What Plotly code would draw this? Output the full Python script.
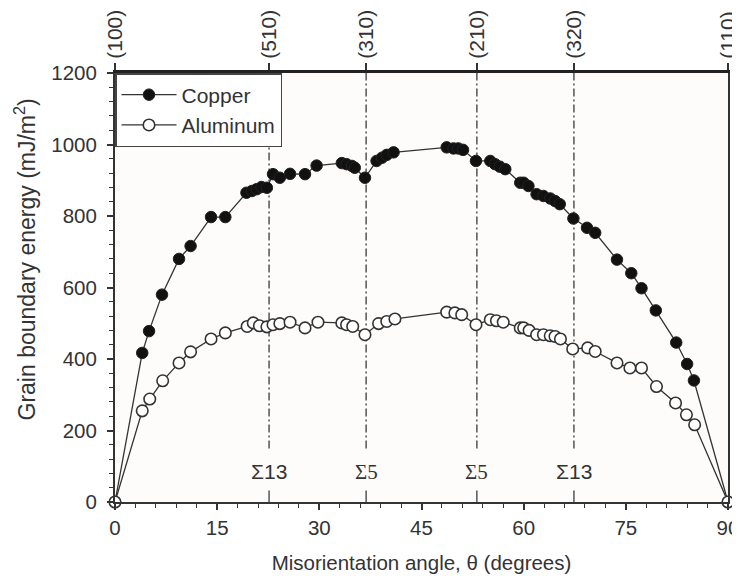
import plotly.graph_objects as go

# ---- data ----
copper_angle = [0, 4.0, 5.0, 6.9, 9.4, 11.1, 14.1, 16.2, 19.3, 20.1, 20.8, 21.5, 22.3,
                23.2, 24.2, 25.7, 27.9, 29.6, 33.3, 34.0, 34.8, 35.2, 36.7, 38.4, 39.2,
                39.9, 40.9, 48.7, 49.7, 50.4, 51.1, 53.0, 55.1, 55.8, 56.5, 57.3, 59.5,
                60.0, 60.7, 61.9, 62.9, 63.9, 64.6, 65.3, 67.3, 69.3, 70.5, 73.7, 75.8,
                77.3, 79.4, 82.4, 84.0, 85.0, 90]
copper_energy = [0, 417, 478, 580, 680, 716, 797, 797, 865, 870, 875, 881, 879,
                 917, 907, 918, 917, 941, 948, 945, 940, 935, 907, 954, 963,
                 971, 978, 992, 989, 989, 985, 954, 954, 945, 938, 931, 893,
                 893, 884, 861, 856, 849, 842, 833, 793, 767, 753, 678, 640,
                 598, 536, 446, 386, 340, 0]

aluminum_angle = [0, 4.0, 5.1, 7.0, 9.4, 11.1, 14.1, 16.2, 19.4, 20.3, 21.2, 22.3, 23.2,
                  24.2, 25.7, 27.9, 29.8, 33.3, 34.0, 34.9, 36.7, 38.7, 39.9, 41.1,
                  48.7, 49.9, 50.9, 53.0, 55.1, 56.0, 57.0, 59.5, 60.0, 60.8, 61.9,
                  62.9, 63.9, 64.6, 65.4, 67.2, 69.4, 70.5, 73.7, 75.6, 77.3, 79.5,
                  82.3, 83.9, 85.1, 90]
aluminum_energy = [0, 255, 288, 339, 389, 420, 456, 473, 491, 501, 493, 490, 496,
                   499, 503, 487, 503, 501, 496, 491, 468, 499, 505, 512,
                   531, 529, 524, 496, 510, 507, 503, 487, 487, 480, 468,
                   468, 465, 463, 456, 428, 431, 421, 389, 375, 375, 323,
                   277, 244, 216, 0]

plane_angles = [0, 22.62, 36.87, 53.13, 67.38, 90]
plane_labels = ["(100)", "(510)", "(310)", "(210)", "(320)", "(110)"]
sigma_angles = [22.62, 36.87, 53.13, 67.38]
sigma_labels = ["Σ13", "Σ5", "Σ5", "Σ13"]
sigma_fonts = ["Liberation Sans", "Liberation Serif", "Liberation Serif", "Liberation Sans"]

x_ticks = [0, 15, 30, 45, 60, 75, 90]
y_ticks = [0, 200, 400, 600, 800, 1000, 1200]

FONT = "Liberation Sans"
INK = "#333333"

fig = go.Figure()

fig.add_trace(go.Scatter(
    x=copper_angle, y=copper_energy, name="Copper", mode="lines+markers",
    line=dict(color=INK, width=1.3),
    marker=dict(symbol="circle", size=11.5, color="#111111",
                line=dict(color="#222222", width=1)),
    cliponaxis=False,
))
fig.add_trace(go.Scatter(
    x=aluminum_angle, y=aluminum_energy, name="Aluminum", mode="lines+markers",
    line=dict(color=INK, width=1.3),
    marker=dict(symbol="circle", size=11.5, color="white",
                line=dict(color="#333333", width=1.6)),
    cliponaxis=False,
))
# invisible trace for the top axis
fig.add_trace(go.Scatter(x=[0, 90], y=[0, 0], xaxis="x2", mode="markers",
                         marker=dict(opacity=0), showlegend=False, hoverinfo="skip"))

# dash-dot reference lines with sigma labels
for a, lab, fnt in zip(sigma_angles, sigma_labels, sigma_fonts):
    fig.add_shape(type="line", x0=a, x1=a, y0=150, y1=1200, xref="x", yref="y",
                  line=dict(color="#555555", width=1.5, dash="8px,3px,2px,3px"),
                  layer="below")
    fig.add_shape(type="line", x0=a, x1=a, y0=0, y1=32, xref="x", yref="y",
                  line=dict(color="#555555", width=1.5), layer="below")
    fig.add_annotation(x=a, y=84, xref="x", yref="y", text=lab, showarrow=False,
                       font=dict(family=fnt, size=21, color=INK))

# y-axis title (placed as an annotation to sit slightly above centre like the reference)
fig.add_annotation(text="Grain boundary energy (mJ/m<sup>2</sup>)",
                   xref="paper", yref="paper", x=-0.147, y=0.565,
                   xanchor="center", yanchor="middle", textangle=-90,
                   showarrow=False, font=dict(family=FONT, size=23, color=INK))

# the page body adds an 8px offset; size the figure to fill the 740x583 window
fig.update_layout(
    width=732, height=575,
    margin=dict(l=107, r=12, t=65, b=81),
    paper_bgcolor="white",
    plot_bgcolor="#fdfcfa",
    font=dict(family=FONT, size=20, color=INK),
    showlegend=True,
    legend=dict(x=0, y=1, xanchor="left", yanchor="top",
                bgcolor="white", bordercolor="#444444", borderwidth=1.5,
                font=dict(family=FONT, size=21, color=INK),
                itemwidth=55, tracegroupgap=0),
    xaxis=dict(range=[0, 90], tickvals=x_ticks, showgrid=False, zeroline=False,
               automargin=False,
               showline=True, linecolor=INK, linewidth=2,
               ticks="outside", ticklen=6, tickcolor=INK, tickwidth=1.5,
               tickfont=dict(size=20.5, color=INK),
               minor=dict(dtick=3, ticks="outside", ticklen=4, tickcolor=INK, tickwidth=1),
               title=dict(text="Misorientation angle, θ (degrees)",
                          font=dict(size=20.5, color=INK), standoff=18)),
    xaxis2=dict(range=[0, 90], overlaying="x", side="top", anchor="y",
                automargin=False,
                tickvals=plane_angles, ticktext=plane_labels, tickangle=-90,
                showgrid=False, zeroline=False,
                showline=True, linecolor="#222222", linewidth=3,
                ticks="outside", ticklen=7, tickcolor=INK, tickwidth=1.5,
                tickfont=dict(size=21, color=INK)),
    yaxis=dict(range=[0, 1200], tickvals=y_ticks, showgrid=False, zeroline=False,
               automargin=False,
               showline=True, linecolor=INK, linewidth=2, mirror=True,
               ticks="outside", ticklen=6, tickcolor=INK, tickwidth=1.5,
               tickfont=dict(size=20.5, color=INK), ticklabelstandoff=6,
               minor=dict(dtick=40, ticks="outside", ticklen=4, tickcolor=INK, tickwidth=1)),
)

fig.write_html("out.html")
